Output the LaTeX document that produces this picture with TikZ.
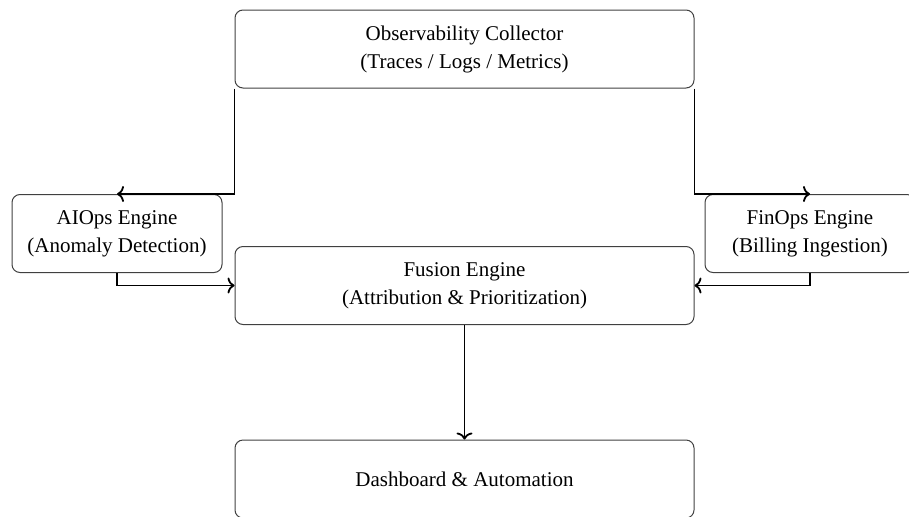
\documentclass[tikz,border=0pt]{standalone}
\usepackage{fontspec}
\setmainfont{Liberation Serif}
\usepackage{tikz}
\usetikzlibrary{positioning, arrows.meta}

\begin{document}
\begin{tikzpicture}[x=1pt, y=1pt,
    block/.style={draw=black!75, line width=0.5pt, rounded corners=4pt, align=center,
      minimum height=39pt, inner sep=0pt, font=\fontsize{10.5}{14}\selectfont},
    wide/.style={block, minimum width=229.5pt},
    side/.style={block, minimum width=105pt},
    flow/.style={-{To[length=3.5pt, width=8pt]}, line width=0.9pt, black}]
    \useasboundingbox (0,0) rectangle (454.5,258);

    % Main column
    \node[wide] (obs) at (232.25,233.5) {Observability Collector\\(Traces / Logs / Metrics)};
    \node[wide] (fusion) at (232.25,115.25) {Fusion Engine\\(Attribution \& Prioritization)};
    \node[wide] (dash) at (232.25,18.5) {Dashboard \& Automation};

    % Engines on both sides
    \node[side] (aiops) at (58.5,141.25) {AIOps Engine\\(Anomaly Detection)};
    \node[side] (finops) at (405,141.25) {FinOps Engine\\(Billing Ingestion)};

    % Draw connections
    \draw[flow] (obs.south west) |- (aiops.north);
    \draw[flow] (obs.south east) |- (finops.north);
    \draw[flow] (aiops.south) |- (fusion.west);
    \draw[flow] (finops.south) |- (fusion.east);
    \draw[flow] (fusion) -- (dash);

\end{tikzpicture}
\end{document}
